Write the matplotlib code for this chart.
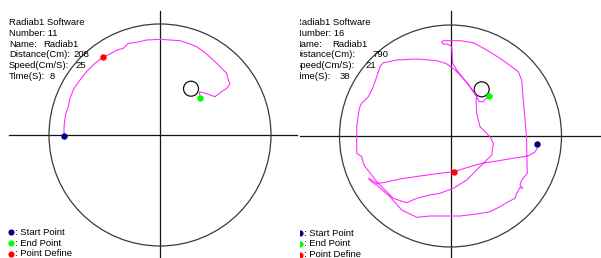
import numpy as np
from matplotlib import pyplot as plt
from matplotlib.patches import Circle

# Path of the robot in each run, in cm from the centre of the arena
left_x = [-96, -96, -95.3, -94, -91.7, -90, -86, -80, -72.7, -65, -57.3, -50, -42.7, -36.7,
          -31.7, -23.3, -13.3, 0, 10, 20, 28.3, 36.7, 45, 53.3, 60, 66.7, 68.3, 70, 66.7,
          61.7, 55, 48.3, 41.7, 39.3, 40]
left_y = [-0.7, 6.7, 15, 21.7, 28.3, 36.7, 46.7, 55, 64.3, 71.7, 77.7, 81, 85, 86.7,
          91.7, 92.7, 95, 95.7, 95, 94.3, 91.7, 88.3, 82.3, 75, 68.3, 61.7, 55, 51, 46.7,
          43.3, 38.3, 40.7, 42.7, 43, 38.3]

right_x = [86.8, 86.8, 84.5, 77.5, 62.5, 46.5, 31.2, 16.2, 3.2, -10.5, -30.5, -50.5, -67.2,
           -73.8, -78.8, -82.2, -78.5,
           -73.8, -60.5, -48.8, -33.8, -20.5, -7.2, 9.5, 26.2, 39.5, 49.5, 57.8, 64.5, 66.2,
           69.5, 72.2, 69.5, 71.2, 76.8,
           76.2, 76.2, 74.5, 72.8, 71.2, 67.8, 61.2, 49.5, 36.2, 22.8, 9.5, -0.5, -7.2,
           -8.8, -7.5, -2.5, 1.2, 2.2, 6.2, 12.8, 19.5, 24.5, 26.2,
           17.5, 10.5, 3.5, -4.5, -14.5, -33.8, -53.8, -67.2, -70.5, -73.8, -77.2, -82.2,
           -88.8, -91.2, -93.8, -93.8, -88.8, -87.2, -85.5, -78.8, -73.8, -70.5,
           -67.2, -57.2, -47.2, -43.8, -33.8, -20.5, -10.5, 2.8, 16.2, 29.5, 41.2, 42.8,
           39.5, 32.8, 29.5, 26.2, 25.5, 26.2,
           28.5, 32.8, 35.5, 38.8]
right_y = [-8.3, -12, -16, -20, -22.3, -25, -27.3, -31.7, -35.7, -37.3, -40, -43, -46.7,
           -47.3, -44, -42.3, -46,
           -49, -60.7, -74, -81.3, -80, -80, -80, -78, -75.7, -70.7, -65.7, -62.3, -57.3,
           -51.3, -52.3, -49, -44, -37.3,
           -14, -4, 16, 36, 56, 64.3, 69.3, 77.7, 86, 93.3, 95.3, 95.3, 95.3,
           94.3, 92, 91.7, 89.3, 72.7, 66, 57.7, 49.3, 42, 39.3,
           52, 60, 67, 72.5, 75.5, 77, 76, 73.3, 69.3, 59.3, 49.3, 39.3,
           32.7, 27.7, 9.3, -17.3, -20.7, -27.3, -30.7, -39, -45.7, -49,
           -52.3, -62.3, -65.7, -66.7, -62.3, -59, -57.3, -52.3, -44, -30.7, -19, -7.3,
           -0.7, 6, 9.3, 22.7, 36, 39.3,
           34.3, 34.3, 37.7, 40]

# start, end and defined points (x, y)
left_start, left_end, left_define = (-96, -0.7), (40, 37.3), (-57.3, 77.7)
right_start, right_end, right_define = (86.8, -8.3), (38.8, 40), (3.2, -35.7)

# target circle (x, y, r)
left_target = (31, 46.3, 7.5)
right_target = (31.2, 46.7, 7.5)

arena_r = 111

labels = ['Radiab1 Software', 'Number: 11', 'Name:', 'Distance(Cm):', 'Speed(Cm/S):', 'Time(S):']
left_values = ['', '', 'Radiab1', '208', '25', '8']
right_labels = ['Radiab1 Software', 'Number: 16', 'Name:', 'Distance(Cm):', 'Speed(Cm/S):', 'Time(S):']
right_values = ['', '', 'Radiab1', '790', '21', '38']
legend_names = [': Start Point', ': End Point', ': Point Define']
legend_colors = ['#000080', '#00ff00', '#ff0000']

FONT = 'Liberation Sans'
FS = 6.8


def draw_panel(ax, px, py, start, end, define, target, names, values, val_x,
               text_x, text_top, hline, vline, legend_x, legend_y):
    ax.axis('off')
    ax.plot(hline, [0, 0], color='#151515', lw=0.9, zorder=1)
    ax.plot([0, 0], vline, color='#151515', lw=0.9, zorder=1)
    ax.add_patch(Circle((0, 0), arena_r, fill=False, ec='#3a3a3a', lw=0.9, zorder=2))
    ax.add_patch(Circle(target[:2], target[2], fill=False, ec='#111111', lw=0.9, zorder=2))
    ax.plot(px, py, color='#ff30ff', lw=0.8, zorder=3)
    for pt, c in zip([start, end, define], legend_colors):
        ax.plot(pt[0], pt[1], 'o', color=c, ms=3.6, mec=c, zorder=4)
    for i, (name, val) in enumerate(zip(names, values)):
        y = text_top - 10.8 * i
        ax.text(text_x, y, name, fontsize=FS, family=FONT, va='baseline', clip_on=True)
        if val:
            ax.text(val_x[i], y, val, fontsize=FS, family=FONT, va='baseline', clip_on=True)
    for i, (name, c) in enumerate(zip(legend_names, legend_colors)):
        y = legend_y - 10.7 * i
        ax.plot(legend_x, y, 'o', color=c, ms=3.4, mec=c, clip_on=True)
        ax.text(legend_x + 4, y, name, fontsize=FS, family=FONT, va='center', clip_on=True)


fig = plt.figure(figsize=(6.01, 2.58), dpi=100)
W, H = 601, 258

ax1 = fig.add_axes([0, 0, 300 / W, 1])
ax1.set_xlim(-160, 140)
ax1.set_ylim(-123, 135)
draw_panel(ax1, left_x, left_y, left_start, left_end, left_define, left_target,
           labels, left_values, [0, 0, -116.7, -86.7, -85, -110],
           -151, 110, [-151, 137], [-123, 124], -149, -97.3)

ax2 = fig.add_axes([300 / W, 0, 301 / W, 1])
ax2.set_xlim(-150.5, 150.5)
ax2.set_ylim(-122, 136)
draw_panel(ax2, right_x, right_y, right_start, right_end, right_define, right_target,
           right_labels, right_values, [0, 0, -117.8, -78.2, -85.5, -110.5],
           -155.8, 111, [-152.5, 150.5], [-122, 125], -150.5, -97.3)

fig.savefig('out.png', dpi=100)
